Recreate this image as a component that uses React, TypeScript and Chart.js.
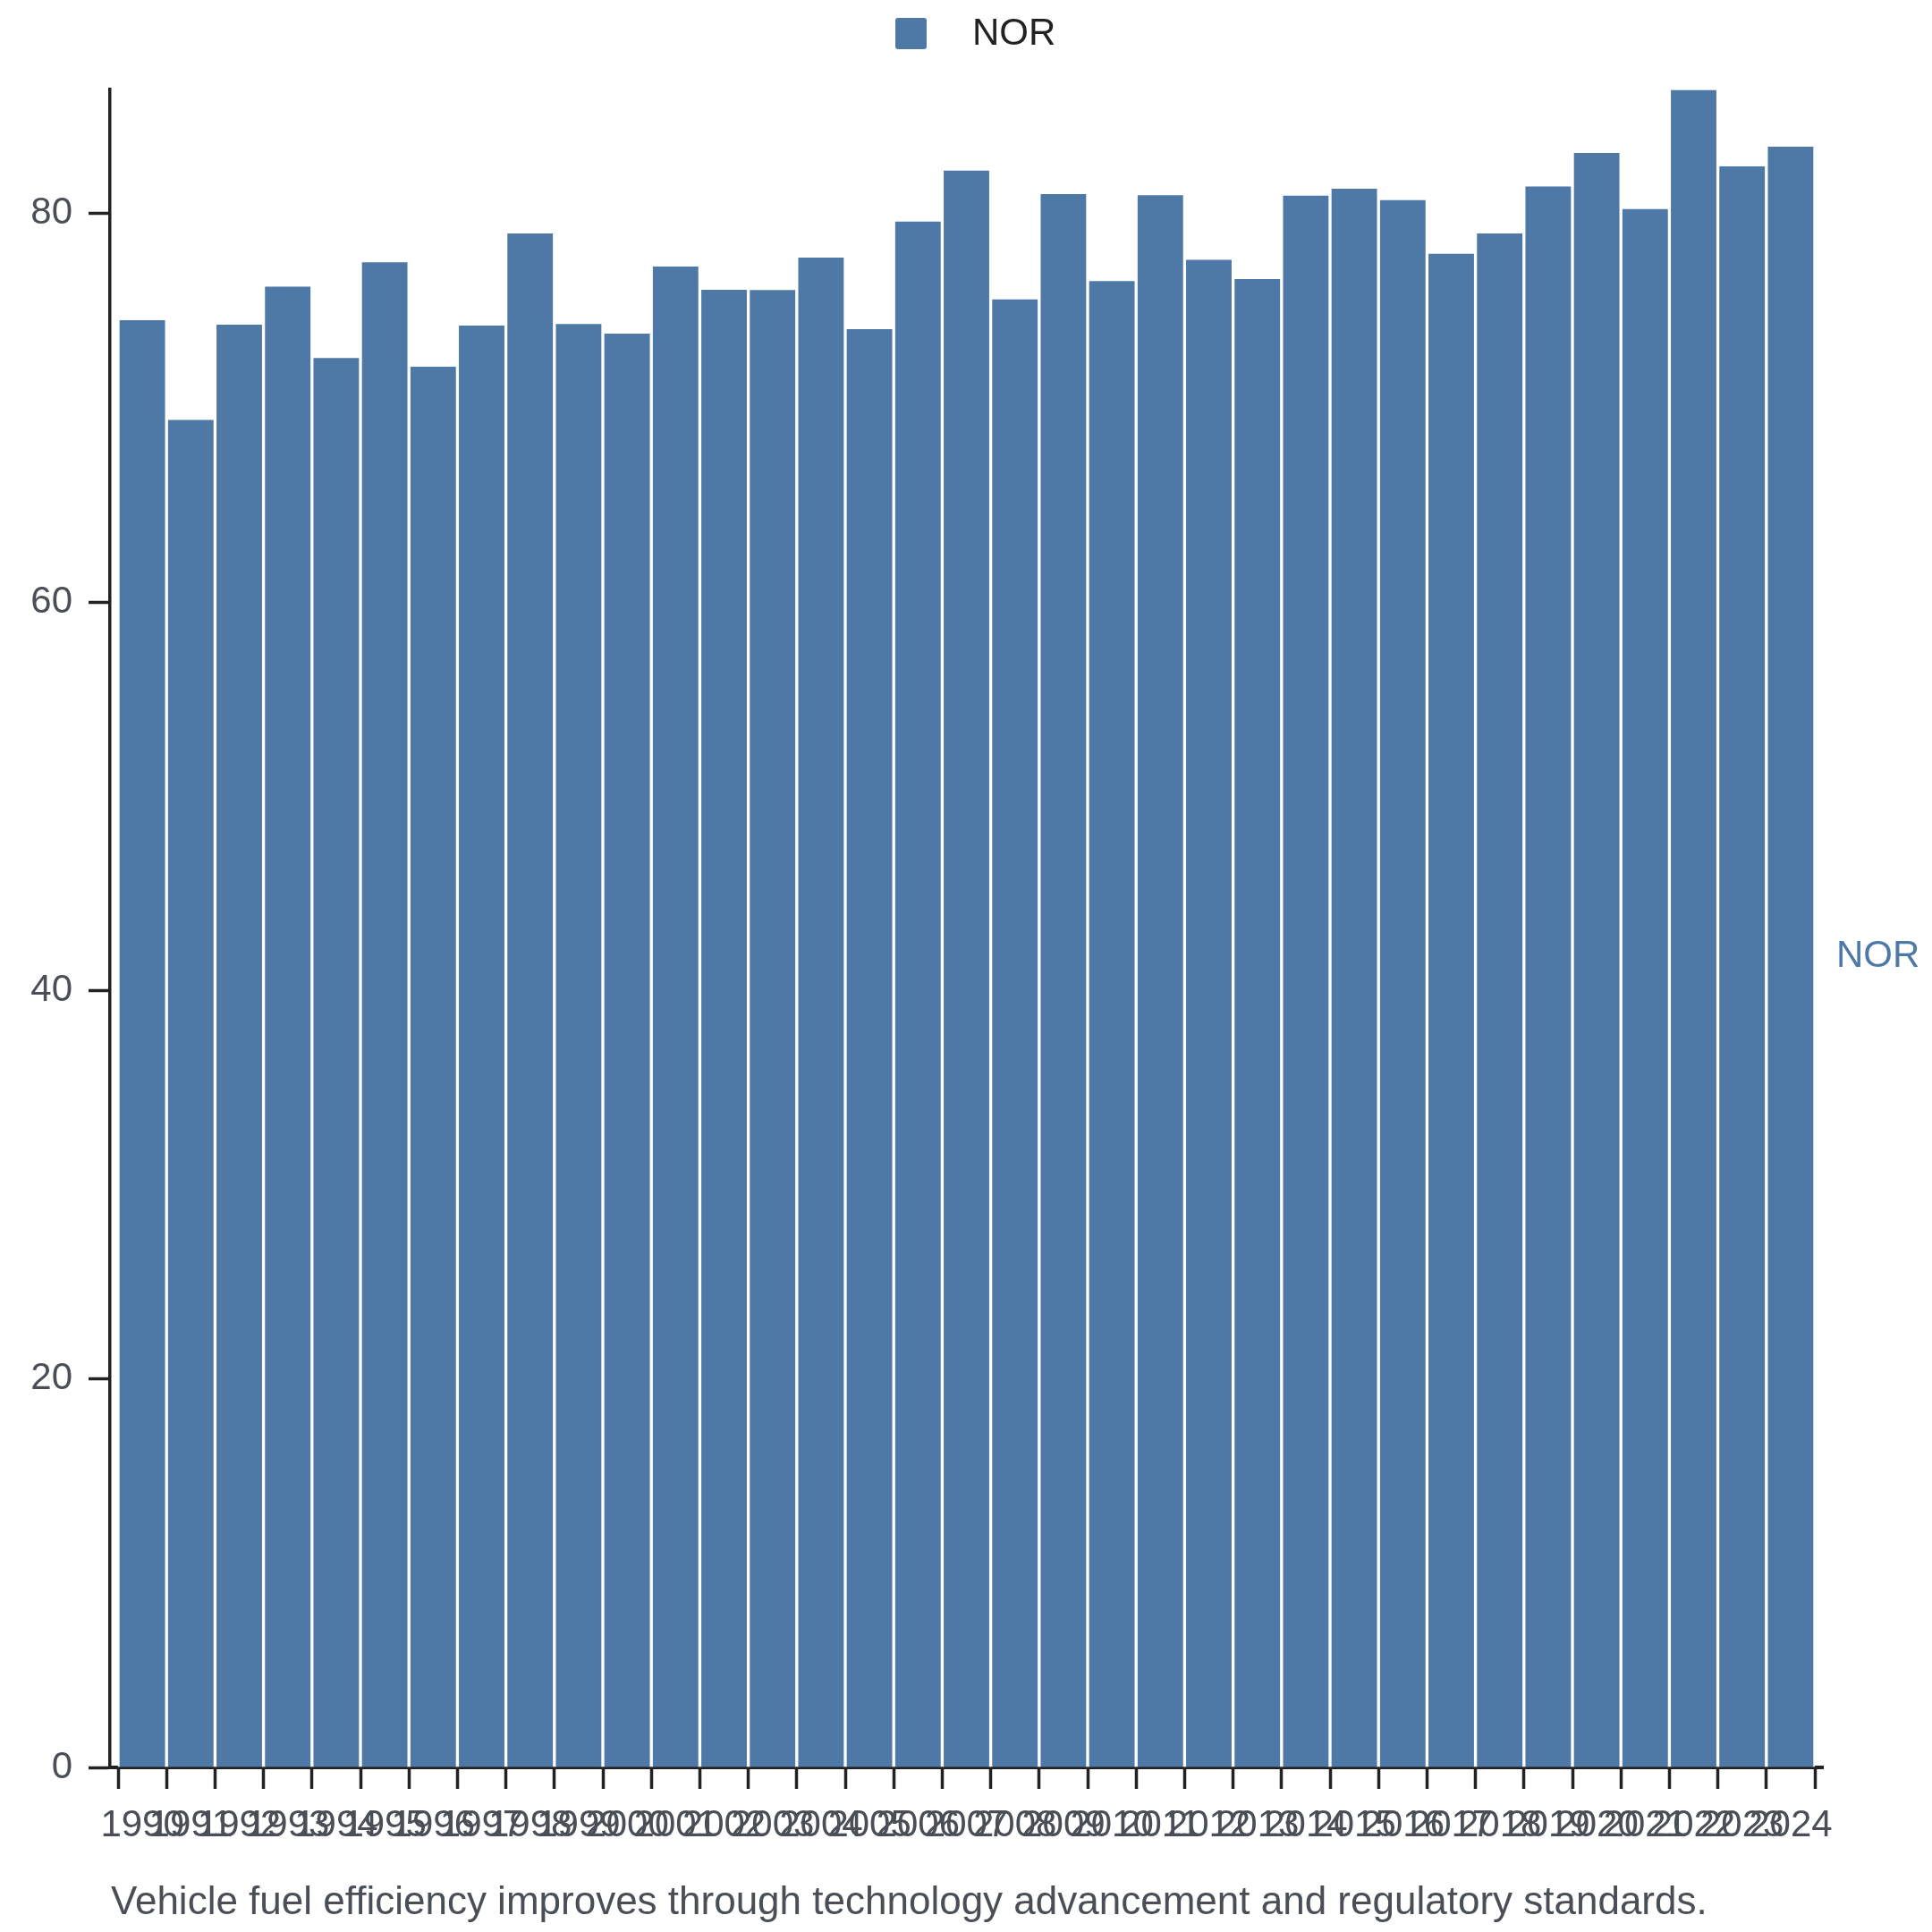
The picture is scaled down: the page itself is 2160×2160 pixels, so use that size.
import React, { useEffect, useRef } from 'react';
import { Chart, registerables } from 'chart.js';

Chart.register(...registerables);

// --- data ---
const years = [
  '1990', '1991', '1992', '1993', '1994', '1995', '1996', '1997', '1998', '1999',
  '2000', '2001', '2002', '2003', '2004', '2005', '2006', '2007', '2008', '2009',
  '2010', '2011', '2012', '2013', '2014', '2015', '2016', '2017', '2018', '2019',
  '2020', '2021', '2022', '2023', '2024',
];
const norValues = [
  74.54, 69.4, 74.31, 76.27, 72.59, 77.52, 72.14, 74.26, 79.01, 74.34,
  73.85, 77.3, 76.1, 76.09, 77.76, 74.08, 79.62, 82.24, 75.61, 81.03,
  76.56, 80.97, 77.65, 76.66, 80.95, 81.31, 80.72, 77.96, 79.01, 81.43,
  83.15, 80.26, 86.39, 82.46, 83.47,
];
const seriesLabel = 'NOR';
const yTickValues = [0, 20, 40, 60, 80];
const caption = 'Vehicle fuel efficiency improves through technology advancement and regulatory standards.';

// --- styling ---
const FONT = '"Liberation Sans", Arial, Helvetica, sans-serif';
const BAR_COLOR = '#4e79a7';
const AXIS_COLOR = '#222222';
const TEXT_GREY = '#4a4f57';
const LEGEND_TEXT = '#222222';
const SIZE = 2160;

// inset the category band a little from both axis ends (outer padding)
const bandPadding = {
  id: 'bandPadding',
  afterLayout(chart: any) {
    const x = chart.scales.x;
    x._startPixel = x.left + 9;
    x._endPixel = x.right - 9;
    x._length = x._endPixel - x._startPixel;
  },
};

// legend, end-of-series label and caption
const decorations = {
  id: 'decorations',
  afterDraw(chart: any) {
    const { ctx, chartArea, scales } = chart;
    const ds = chart.data.datasets[0];
    ctx.save();

    // legend on top
    const box = 35;
    const boxX = chart.width / 2 - 79;
    const boxY = 20;
    ctx.fillStyle = ds.backgroundColor;
    ctx.beginPath();
    ctx.roundRect(boxX, boxY, box, box, 3);
    ctx.fill();
    ctx.font = `42px ${FONT}`;
    ctx.textAlign = 'left';
    ctx.textBaseline = 'middle';
    ctx.fillStyle = LEGEND_TEXT;
    ctx.fillText(ds.label, boxX + box + 51, boxY + box / 2 + 1);

    // series name right of the plot, at half the last bar
    const last = ds.data[ds.data.length - 1];
    ctx.fillStyle = ds.backgroundColor;
    ctx.fillText(ds.label, chartArea.right + 15, scales.y.getPixelForValue(last / 2));

    // caption under the axis
    ctx.font = `44px ${FONT}`;
    ctx.fillStyle = TEXT_GREY;
    ctx.textBaseline = 'alphabetic';
    ctx.fillText(caption, chartArea.left + 1, chart.height - 20);
    ctx.restore();
  },
};

export default function App() {
  const canvasRef = useRef<HTMLCanvasElement | null>(null);

  useEffect(() => {
    document.body.style.margin = '0';
    if (!canvasRef.current) return;

    const chart = new Chart(canvasRef.current, {
      type: 'bar',
      data: {
        labels: years,
        datasets: [
          {
            label: seriesLabel,
            data: norValues,
            backgroundColor: BAR_COLOR,
            borderColor: '#ffffff',
            borderWidth: { left: 2, right: 2, top: 1, bottom: 0 },
            borderSkipped: false,
            barPercentage: 1,
            categoryPercentage: 1,
          },
        ],
      },
      options: {
        responsive: false,
        devicePixelRatio: 1,
        animation: false,
        layout: { padding: { top: 100, right: 122, bottom: 80, left: 0 } },
        plugins: {
          legend: { display: false },
          title: { display: false },
          tooltip: { enabled: false },
        },
        scales: {
          x: {
            offset: true,
            grid: {
              offset: true,
              drawOnChartArea: false,
              drawTicks: true,
              tickLength: 24,
              tickWidth: 3.5,
              tickColor: AXIS_COLOR,
            },
            border: { display: true, color: AXIS_COLOR, width: 4 },
            ticks: {
              autoSkip: false,
              maxRotation: 0,
              minRotation: 0,
              padding: 16,
              color: TEXT_GREY,
              font: { family: FONT, size: 42 },
            },
            afterFit: (scale: any) => {
              scale.height = 104;
            },
          },
          y: {
            min: 0,
            max: Math.max(...norValues),
            grid: {
              drawOnChartArea: false,
              drawTicks: true,
              tickLength: 24,
              tickWidth: 3.5,
              tickColor: AXIS_COLOR,
            },
            border: { display: true, color: AXIS_COLOR, width: 3.5 },
            ticks: {
              padding: 18,
              color: TEXT_GREY,
              font: { family: FONT, size: 42 },
            },
            afterBuildTicks: (scale: any) => {
              scale.ticks = yTickValues.map((v) => ({ value: v }));
            },
            afterFit: (scale: any) => {
              scale.width = 123;
            },
          },
        },
      },
      plugins: [bandPadding, decorations],
    });

    return () => {
      chart.destroy();
    };
  }, []);

  return (
    <div style={{ width: SIZE, height: SIZE, background: '#ffffff' }}>
      <canvas ref={canvasRef} width={SIZE} height={SIZE} style={{ display: 'block' }} />
    </div>
  );
}
